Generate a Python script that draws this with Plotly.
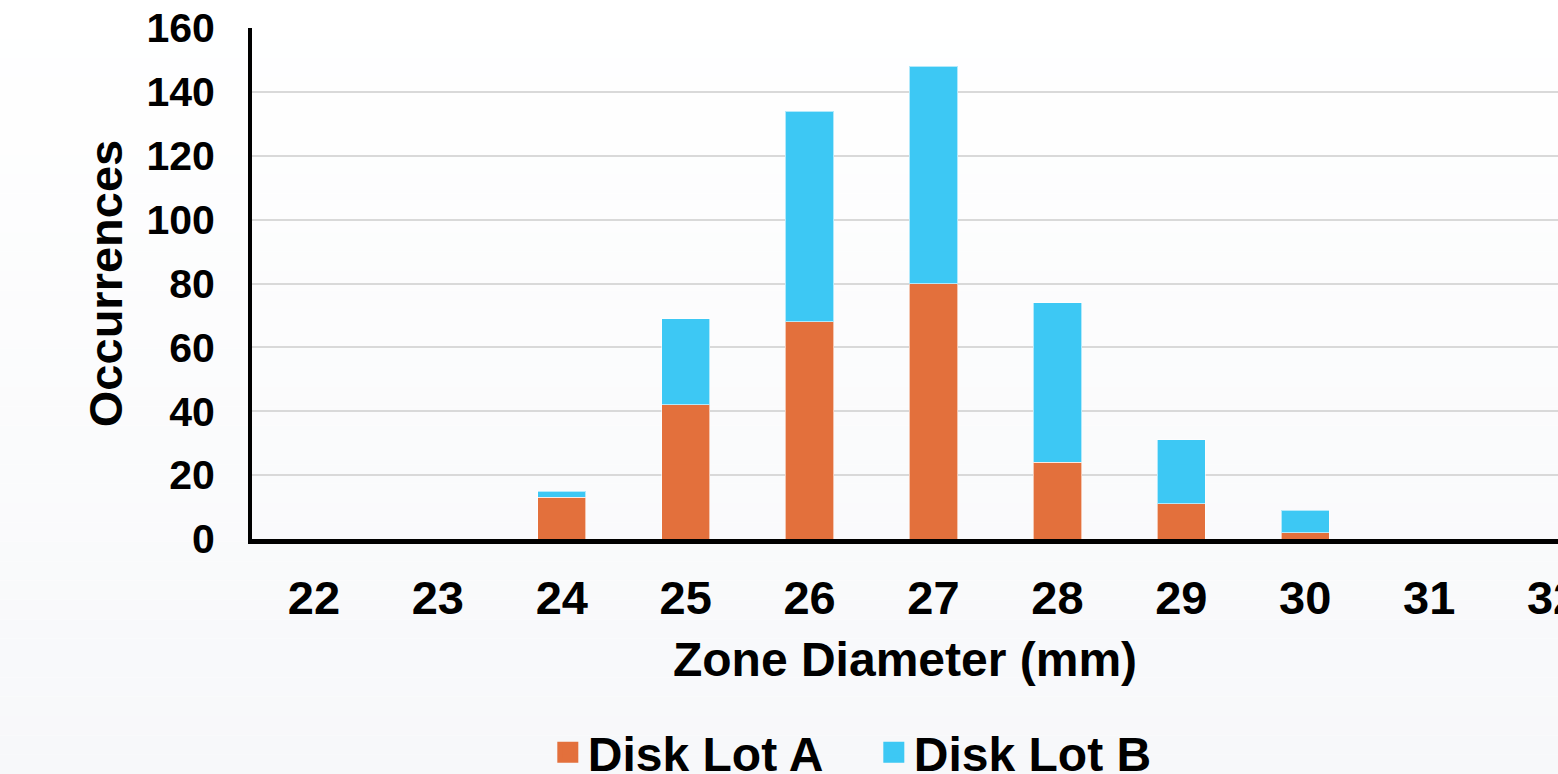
import plotly.graph_objects as go

diameters = [22, 23, 24, 25, 26, 27, 28, 29, 30, 31, 32]
lot_a = [0, 0, 13, 42, 68, 80, 24, 11, 2, 0, 0]
lot_b = [0, 0, 2, 27, 66, 68, 50, 20, 7, 0, 0]
y_ticks = [0, 20, 40, 60, 80, 100, 120, 140, 160]

COL_A = "#E3703C"
COL_B = "#3DC8F4"
FONT = "Liberation Sans, Arial, sans-serif"

W, H = 1558, 774
ML, MR, MT, MB = 252, 0, 28, 235

fig = go.Figure()
fig.add_trace(go.Bar(x=diameters, y=lot_a, name="Disk Lot A", marker=dict(color=COL_A, line=dict(width=1, color="rgba(255,255,255,0.6)")),
                     width=0.39, showlegend=False))
fig.add_trace(go.Bar(x=diameters, y=lot_b, name="Disk Lot B", marker=dict(color=COL_B, line=dict(width=1, color="rgba(255,255,255,0.6)")),
                     width=0.39, showlegend=False))
# legend entries
for nm, c in [("Disk Lot A", COL_A), ("Disk Lot B", COL_B)]:
    fig.add_trace(go.Scatter(x=[None], y=[None], mode="markers", name=nm,
                             marker=dict(symbol="square", size=16, color=c, line=dict(width=5, color=c))))

# background gradient (white at top -> light grey at bottom)
ph = H - MT - MB
n = 40
shapes = []
for i in range(n):
    p0 = H * i / n
    p1 = H * (i + 1) / n
    t = (i + 0.5) / n
    r = round(255 - t * 8)
    g = round(255 - t * 7)
    b = round(255 - t * 5)
    shapes.append(dict(type="rect", xref="paper", yref="paper", layer="below",
                       x0=-0.5, x1=1.5, y0=(H - MB - p1) / ph, y1=(H - MB - p0) / ph,
                       fillcolor=f"rgb({r},{g},{b})", line=dict(width=0)))

fig.update_layout(
    width=W, height=H,
    margin=dict(l=ML, r=MR, t=MT, b=MB, autoexpand=False),
    barmode="stack",
    paper_bgcolor="white",
    plot_bgcolor="rgba(0,0,0,0)",
    font=dict(family=FONT, color="black"),
    shapes=shapes,
    showlegend=True,
    legend=dict(orientation="h", x=0.2265, xanchor="left", y=-0.418, yanchor="middle",
                font=dict(size=48, family=FONT, weight="bold", color="black"),
                bgcolor="rgba(0,0,0,0)", entrywidth=281, traceorder="normal"),
    xaxis=dict(range=[21.5, 32.04], tickmode="array", tickvals=diameters,
               ticktext=[str(d) for d in diameters], ticklabeloverflow="allow",
               tickfont=dict(size=47, family=FONT, weight="bold", color="black"),
               ticks="", ticklabelstandoff=14, showgrid=False, zeroline=False,
               showline=True, linecolor="black", linewidth=5,
               title=dict(text="Zone Diameter (mm)", standoff=20,
                          font=dict(size=48, family=FONT, weight="bold", color="black"))),
    yaxis=dict(range=[0, 160], tickmode="array", tickvals=y_ticks,
               tickfont=dict(size=41, family=FONT, weight="bold", color="black"),
               ticks="", ticklabelstandoff=25, showgrid=True, gridcolor="#d9d9d9", gridwidth=1.5,
               zeroline=False, showline=True, linecolor="black", linewidth=4,
               title=dict(text="Occurrences", standoff=10,
                          font=dict(size=47, family=FONT, weight="bold", color="black"))),
)

fig.write_html("out.html")
